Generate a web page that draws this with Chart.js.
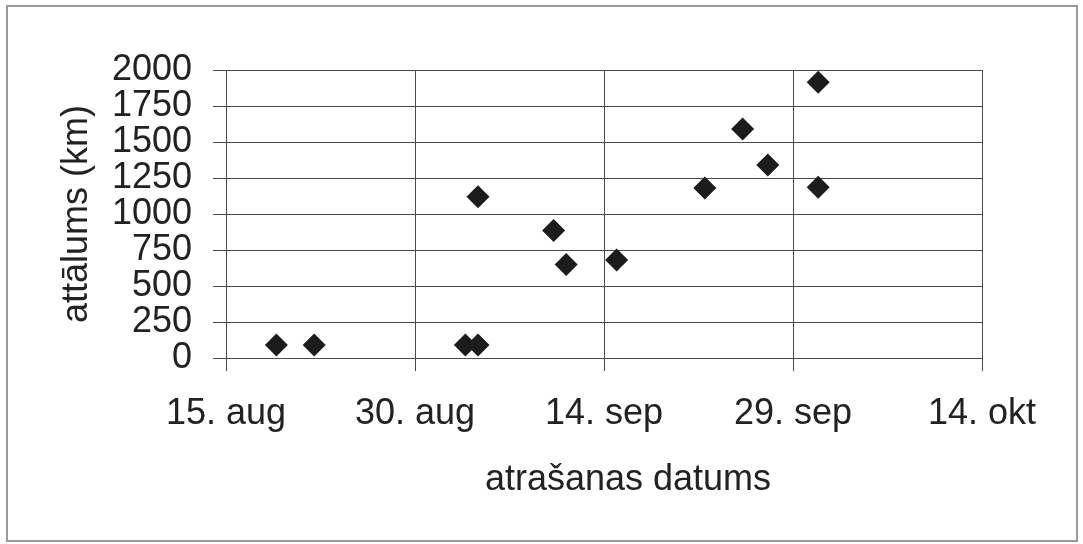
<!DOCTYPE html>
<html>
<head>
<meta charset="utf-8">
<script src="https://cdn.jsdelivr.net/npm/chart.js@4"></script>
<style>
  html, body { margin: 0; padding: 0; background: #ffffff; }
  #wrap { width: 1083px; height: 544px; }
</style>
</head>
<body>
<div id="wrap"><canvas id="c" width="1083" height="544"></canvas></div>
<script>
// Observation dates (day.month) and distance from the ringing site, km
const obsDates = ['19.08', '22.08', '03.09', '04.09', '04.09', '10.09', '11.09',
                  '15.09', '22.09', '25.09', '27.09', '01.10', '01.10'];
const distances = [90, 90, 90, 90, 1120, 885, 650, 680, 1180, 1590, 1340, 1915, 1185];

// Date axis labels, every 15 days starting 15 August
const xTickLabels = ['15. aug', '30. aug', '14. sep', '29. sep', '14. okt'];
const yTicks = [0, 250, 500, 750, 1000, 1250, 1500, 1750, 2000];

const AXIS_START = '15.08';
const DAY_STEP = 15;

function dayOfYear(s) {
  const [d, m] = s.split('.').map(Number);
  return Date.UTC(2001, m - 1, d) / 86400000;
}
const startDay = dayOfYear(AXIS_START);
const points = obsDates.map((s, i) => ({ x: dayOfYear(s) - startDay, y: distances[i] }));

const FONT = "'Liberation Sans', Arial, sans-serif";
const INK = '#222222';
const GRID = '#4a4a4a';

// Outer frame and the centred x-axis title
const framePlugin = {
  id: 'frame',
  beforeDraw(chart) {
    const ctx = chart.ctx;
    ctx.save();
    ctx.fillStyle = '#ffffff';
    ctx.fillRect(0, 0, chart.width, chart.height);
    ctx.strokeStyle = '#9a9a9a';
    ctx.lineWidth = 2;
    ctx.strokeRect(7, 6, chart.width - 13, chart.height - 9);
    ctx.restore();
  },
  afterDraw(chart) {
    const ctx = chart.ctx;
    const area = chart.chartArea;
    ctx.save();
    ctx.font = '36px ' + FONT;
    ctx.fillStyle = INK;
    ctx.textAlign = 'center';
    ctx.textBaseline = 'alphabetic';
    ctx.fillText('atrašanas datums', (area.left + area.right) / 2 + 24, area.bottom + 132);
    ctx.restore();
  }
};

new Chart(document.getElementById('c'), {
  type: 'scatter',
  data: {
    datasets: [{
      data: points,
      pointStyle: 'rectRot',
      pointRadius: 11.5,
      pointHoverRadius: 11.5,
      backgroundColor: '#1c1c1c',
      borderColor: '#1c1c1c',
      borderWidth: 0
    }]
  },
  options: {
    responsive: false,
    animation: false,
    devicePixelRatio: 1,
    layout: { padding: { left: 0, right: 101, top: 70, bottom: 0 } },
    plugins: { legend: { display: false }, tooltip: { enabled: false } },
    scales: {
      x: {
        type: 'linear',
        min: 0,
        max: DAY_STEP * (xTickLabels.length - 1),
        afterBuildTicks(scale) {
          scale.ticks = xTickLabels.map((_, i) => ({ value: i * DAY_STEP }));
        },
        afterFit(scale) { scale.height = 186; },
        ticks: {
          autoSkip: false,
          maxRotation: 0,
          padding: 21,
          color: INK,
          font: { family: FONT, size: 36 },
          callback: (v) => xTickLabels[Math.round(v / DAY_STEP)]
        },
        grid: { color: GRID, lineWidth: 1, tickLength: 13, drawTicks: true },
        border: { color: GRID, width: 1 }
      },
      y: {
        min: 0,
        max: 2000,
        afterBuildTicks(scale) {
          scale.ticks = yTicks.map(v => ({ value: v }));
        },
        afterFit(scale) { scale.width = 226; },
        ticks: {
          autoSkip: false,
          padding: 21,
          color: INK,
          font: { family: FONT, size: 36 },
          callback: (v) => String(v)
        },
        grid: { color: GRID, lineWidth: 1, tickLength: 13, drawTicks: true },
        border: { color: GRID, width: 1 },
        title: {
          display: true,
          text: 'attālums (km)',
          color: INK,
          font: { family: FONT, size: 36 },
          padding: 55
        }
      }
    }
  },
  plugins: [framePlugin]
});
</script>
</body>
</html>
